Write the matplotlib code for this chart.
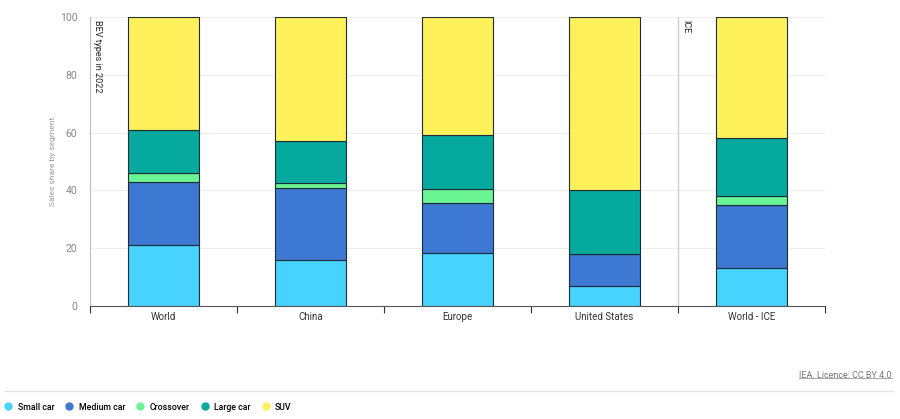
import matplotlib
matplotlib.use("Agg")
import matplotlib.pyplot as plt
from matplotlib.lines import Line2D
import numpy as np

plt.rcParams['font.family'] = ['Roboto', 'DejaVu Sans']

categories = ["World", "China", "Europe", "United States", "World - ICE"]
segments = ["Small car", "Medium car", "Crossover", "Large car", "SUV"]
small_car = [21, 16, 18.5, 7, 13]
medium_car = [22, 25, 17, 11, 22]
crossover = [3, 1.5, 5, 0, 3]
large_car = [15, 14.5, 18.7, 22, 20]
suv = [39, 43, 40.8, 60, 42]
series = [small_car, medium_car, crossover, large_car, suv]
colors = ["#48D3FF", "#3D78D2", "#6BF493", "#05A99D", "#FFF15C"]

fig = plt.figure(figsize=(9, 4.19), dpi=100)
ax = fig.add_axes([0.1, 0.2697, 0.8167, 0.6897])

x = np.arange(len(categories))
bottom = np.zeros(len(categories))
for name, vals, c in zip(segments, series, colors):
    vals = np.array(vals, dtype=float)
    ax.bar(x, vals, width=0.48, bottom=bottom, color=c, edgecolor="#1d2b36",
           linewidth=0.8, label=name, zorder=3)
    bottom += vals

ax.set_xlim(-0.5, 4.5)
ax.set_ylim(0, 100)
ax.set_yticks([0, 20, 40, 60, 80, 100])
ax.yaxis.grid(True, color="#eeeeee", linewidth=0.8, zorder=0)
ax.tick_params(axis='y', length=0, labelsize=7.5, labelcolor="#888888", pad=9)
ax.set_ylabel("Sales share by segment", fontsize=6, color="#999999", labelpad=3)

ax.set_xticks(x)
ax.set_xticklabels(categories, fontsize=7, color="#333333")
ax.tick_params(axis='x', which='major', length=0, pad=4)
ax.set_xticks(np.arange(-0.5, 5.0, 1.0), minor=True)
ax.tick_params(axis='x', which='minor', length=5, width=0.8, color="#333333", direction='out')

for s in ['top', 'right']:
    ax.spines[s].set_visible(False)
ax.spines['left'].set_color("#bbbbbb")
ax.spines['left'].set_linewidth(0.8)
ax.spines['bottom'].set_color("#555555")
ax.spines['bottom'].set_linewidth(0.8)

# ICE separator
ax.axvline(3.5, color="#cccccc", linewidth=1, zorder=2)
ax.text(-0.5 + 0.02, 99, "BEV types in 2022", rotation=270, va='top', ha='left',
        fontsize=6.5, color="#222222")
ax.text(3.5 + 0.02, 99, "ICE", rotation=270, va='top', ha='left',
        fontsize=6.5, color="#222222")

# Bottom separator line and licence
fig.add_artist(Line2D([5/900, 893/900], [28/419, 28/419], color="#e3e3e3",
                      linewidth=1, transform=fig.transFigure))
t = fig.text(0.991, 44/419, "IEA. Licence: CC BY 4.0", ha='right', va='center',
             fontsize=6.5, color="#777777")
fig.canvas.draw()
bb = t.get_window_extent().transformed(fig.transFigure.inverted())
fig.add_artist(Line2D([bb.x0, bb.x1], [bb.y0 + 0.004, bb.y0 + 0.004], color="#999999",
                      linewidth=0.6, transform=fig.transFigure))

# Legend
handles = [Line2D([0], [0], marker='o', linestyle='', markersize=5,
                  markerfacecolor=c, markeredgecolor=c) for c in colors]
fig.legend(handles, segments, loc='center left', bbox_to_anchor=(3.5/900, 12/419),
           ncol=5, frameon=False, handletextpad=0.6, columnspacing=1.2,
           borderpad=0, borderaxespad=0,
           prop={'weight': 'medium', 'size': 6.3}, handlelength=1.0)

fig.savefig("out.png", dpi=100)
